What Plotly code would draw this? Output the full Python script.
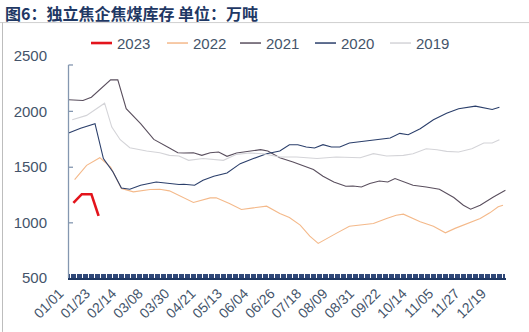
import plotly.graph_objects as go
import pandas as pd

# ---------------- data ----------------
title_text = "图6：独立焦企焦煤库存 单位：万吨"
tick_labels = ["01/01", "01/23", "02/14", "03/08", "03/30", "04/21", "05/13", "06/04",
               "06/26", "07/18", "08/09", "08/31", "09/22", "10/14", "11/05", "11/27", "12/19"]
y_ticks = [500, 1000, 1500, 2000, 2500]

# day-of-year (0 = 01/01) and inventory values (万吨)
days_2023 = [4, 11, 19, 25]
vals_2023 = [1177, 1255, 1255, 1060]

days_2022 = [5, 15, 26, 35, 44, 54, 68, 76, 84, 94, 104, 118, 123, 134, 144, 154, 165, 176,
             184, 193, 201, 208, 215, 223, 234, 246, 254, 265, 273, 279, 287, 293, 304, 314,
             322, 332, 343, 351, 358, 362]
vals_2022 = [1387, 1515, 1584, 1500, 1306, 1276, 1297, 1300, 1285, 1235, 1180, 1222, 1222, 1171,
             1117, 1132, 1147, 1081, 1045, 976, 877, 812, 857, 902, 967, 983, 991, 1036, 1066,
             1075, 1036, 1006, 967, 907, 947, 991, 1036, 1087, 1141, 1156]

days_2021 = [0, 12, 19, 35, 41, 48, 60, 71, 84, 91, 96, 104, 111, 118, 125, 132, 140, 152, 160,
             166, 176, 187, 196, 204, 212, 221, 231, 237, 244, 251, 259, 266, 272, 279, 287, 298,
             309, 321, 329, 335, 343, 354, 364]
vals_2021 = [2106, 2099, 2129, 2285, 2285, 2025, 1890, 1749, 1672, 1629, 1626, 1629, 1605, 1629,
             1635, 1596, 1626, 1644, 1656, 1644, 1584, 1545, 1506, 1477, 1416, 1365, 1327, 1329,
             1320, 1351, 1374, 1365, 1396, 1365, 1336, 1320, 1300, 1225, 1156, 1120, 1156, 1230, 1290]

days_2020 = [0, 10, 22, 29, 37, 44, 51, 60, 73, 84, 92, 96, 105, 112, 121, 132, 143, 154, 165,
             176, 184, 191, 198, 205, 212, 219, 226, 234, 246, 257, 268, 276, 283, 293, 304, 315,
             325, 339, 353, 359]
vals_2020 = [1806, 1850, 1890, 1576, 1455, 1311, 1300, 1336, 1365, 1353, 1342, 1345, 1336, 1380,
             1416, 1446, 1530, 1576, 1620, 1644, 1701, 1701, 1680, 1671, 1701, 1680, 1680, 1716,
             1734, 1746, 1761, 1803, 1791, 1845, 1926, 1985, 2025, 2048, 2018, 2039]

days_2019 = [3, 15, 30, 36, 43, 51, 65, 76, 84, 92, 100, 112, 129, 140, 151, 162, 176, 190, 207,
             223, 243, 254, 265, 279, 287, 298, 307, 315, 325, 336, 346, 353, 359]
vals_2019 = [1926, 1965, 2075, 1860, 1746, 1674, 1644, 1629, 1605, 1599, 1560, 1576, 1560, 1614,
             1626, 1620, 1590, 1590, 1576, 1590, 1584, 1620, 1599, 1605, 1620, 1665, 1656, 1641,
             1635, 1665, 1716, 1716, 1746]

series_names = ["2023", "2022", "2021", "2020", "2019"]
series_days = [days_2023, days_2022, days_2021, days_2020, days_2019]
series_vals = [vals_2023, vals_2022, vals_2021, vals_2020, vals_2019]

# ---------------- styles ----------------
colors = ["#E3141C", "#F4B98A", "#5A4F5E", "#2B3F6B", "#D4D4D8"]
widths = [2.6, 1.1, 1.1, 1.1, 1.1]
text_color = "#44546A"
W, H = 529, 332
L, R, T, B = 68, 23, 55.5, 54


def px_x(px):
    return (px - L) / (W - L - R)


def px_y(py):
    return (H - B - py) / (H - T - B)


tick_days = [(pd.Timestamp("2021/" + s) - pd.Timestamp("2021-01-01")).days for s in tick_labels]

fig = go.Figure()
for name, d, v, c, w in zip(series_names, series_days, series_vals, colors, widths):
    fig.add_trace(go.Scatter(x=d, y=v, mode="lines", name=name,
                             line=dict(color=c, width=w), showlegend=False))

# draw order: put 2023 on top
fig.data = fig.data[1:] + fig.data[:1]

shapes = []
annotations = []

# custom legend
leg_x = [91, 167, 240, 315, 390]
for name, c, w, lx in zip(series_names, colors, widths, leg_x):
    shapes.append(dict(type="line", xref="paper", yref="paper",
                       x0=px_x(lx), x1=px_x(lx + 21), y0=px_y(42.5), y1=px_y(42.5),
                       line=dict(color=c, width=w + 0.4 if w < 2 else w)))
    annotations.append(dict(text=name, xref="paper", yref="paper", x=px_x(lx + 24), y=px_y(43),
                            xanchor="left", yanchor="middle", showarrow=False,
                            font=dict(size=15, color=text_color, family="Liberation Sans")))

# title
annotations.append(dict(text="<b>" + title_text + "</b>", xref="paper", yref="paper",
                        x=px_x(3), y=px_y(12), xanchor="left", yanchor="middle", showarrow=False,
                        font=dict(size=16, color="#1F3864", family="Noto Sans CJK SC")))

# frame lines
shapes.append(dict(type="line", xref="paper", yref="paper", x0=px_x(0), x1=px_x(W),
                   y0=px_y(22), y1=px_y(22), line=dict(color="#CFCFCF", width=1)))
shapes.append(dict(type="line", xref="paper", yref="paper", x0=px_x(2.5), x1=px_x(2.5),
                   y0=px_y(22), y1=px_y(H), line=dict(color="#BDBDBD", width=1)))

# y axis line and inside ticks
axis_color = "#8497B0"
shapes.append(dict(type="line", xref="paper", yref="paper", x0=px_x(68.5), x1=px_x(68.5),
                   y0=px_y(278), y1=px_y(64.5), line=dict(color=axis_color, width=1.3)))
for py in [64.5, 111, 167, 222.7]:
    shapes.append(dict(type="line", xref="paper", yref="paper", x0=px_x(68.5), x1=px_x(73),
                       y0=px_y(py), y1=px_y(py), line=dict(color=axis_color, width=1.3)))

fig.update_layout(
    width=W, height=H,
    margin=dict(l=L, r=R, t=T, b=B),
    paper_bgcolor="white", plot_bgcolor="white",
    shapes=shapes, annotations=annotations,
    xaxis=dict(range=[-0.5, 364.5], tickmode="array", tickvals=tick_days, ticktext=tick_labels,
               tickangle=-45, showgrid=False, zeroline=False,
               showline=True, linecolor="#1F3864", linewidth=1.5,
               ticks="inside", ticklen=4, tickcolor="#2F4778", tickwidth=1,
               minor=dict(tickmode="linear", tick0=0, dtick=1, ticks="inside", ticklen=4,
                          tickcolor="#2F4778", tickwidth=1, showgrid=False),
               ticklabelshift=-9,
               tickfont=dict(size=14, color=text_color, family="Liberation Sans")),
    yaxis=dict(range=[500, 2500], tickmode="array", tickvals=y_ticks,
               ticktext=[str(v) for v in y_ticks],
               showgrid=False, zeroline=False, showline=False, ticks="",
               ticklabelstandoff=20,
               tickfont=dict(size=15, color=text_color, family="Liberation Sans")),
)

fig.write_html("out.html")
